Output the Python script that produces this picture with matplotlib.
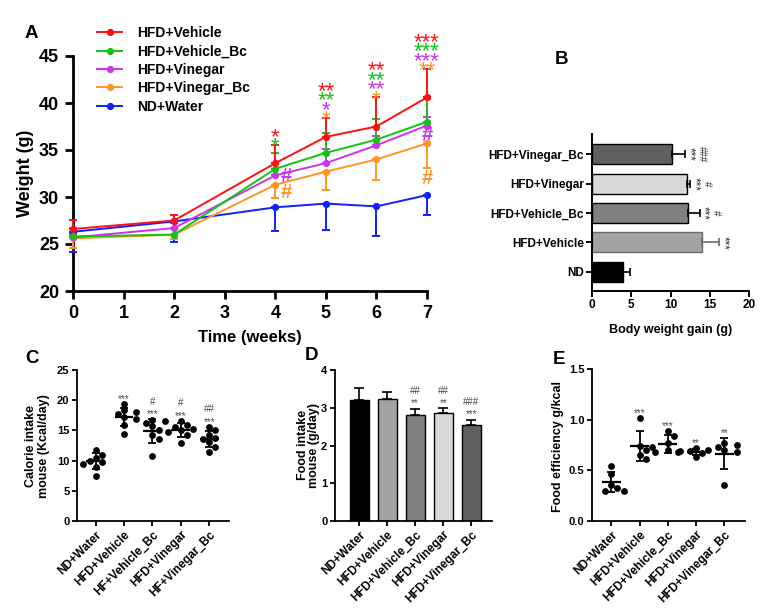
import matplotlib.pyplot as plt
import numpy as np
from matplotlib.lines import Line2D

plt.rcParams['font.family'] = ['Liberation Sans', 'DejaVu Sans']
plt.rcParams['font.weight'] = 'bold'
plt.rcParams['axes.labelweight'] = 'bold'

W, H = 771, 616

# ---------- data ----------
weeks = [0, 2, 4, 5, 6, 7]
w_vehicle = [26.6, 27.5, 33.6, 36.4, 37.5, 40.6]
w_vehicle_bc = [25.8, 26.0, 33.0, 34.7, 36.1, 38.0]
w_vinegar = [25.7, 26.7, 32.3, 33.6, 35.5, 37.6]
w_vinegar_bc = [25.6, 26.0, 31.3, 32.7, 34.0, 35.7]
w_water = [26.3, 27.4, 28.9, 29.3, 29.0, 30.2]
# SD, drawn one side only (up for the first three, down for the last two)
e_vehicle = [1.0, 0.55, 1.9, 2.0, 3.1, 3.0]
e_vehicle_bc = [0.9, 0.7, 1.65, 2.1, 2.2, 2.4]
e_vinegar = [0.4, 0.5, 0.6, 1.5, 1.0, 0.9]
e_vinegar_bc = [1.0, 0.5, 1.45, 1.95, 2.2, 2.6]
e_water = [2.2, 2.2, 2.5, 2.8, 3.1, 2.1]
s_vehicle = ['', '', '*', '**', '**', '***']
s_vehicle_bc = ['', '', '*', '**', '**', '***']
s_vinegar = ['', '', '', '*', '**', '***']
s_vinegar_bc = ['', '', '', '*', '*', '**']
hash_a = [(4.21, 32.2, 'magenta'), (4.21, 30.5, 'orange'),
          (7.0, 36.5, 'magenta'), (7.0, 32.0, 'orange')]

gain_groups = ['ND', 'HFD+Vehicle', 'HFD+Vehicle_Bc', 'HFD+Vinegar', 'HFD+Vinegar_Bc']
gain = [3.9, 14.0, 12.2, 12.05, 10.2]
gain_err = [0.9, 2.2, 1.5, 0.45, 1.7]
gain_stars = ['', '***', '***', '***', '***']
gain_hash = ['', '', '#', '#', '###']

labels_c = ['ND+Water', 'HFD+Vehicle', 'HF+Vehicle_Bc', 'HFD+Vinegar', 'HF+Vinegar_Bc']
labels_de = ['ND+Water', 'HFD+Vehicle', 'HFD+Vehicle_Bc', 'HFD+Vinegar', 'HFD+Vinegar_Bc']
cal_water = [11.8, 11.0, 10.5, 10.0, 9.8, 9.5, 8.9, 7.5]
cal_vehicle = [19.4, 18.3, 18.0, 17.7, 17.2, 16.9, 15.9, 14.4]
cal_vehicle_bc = [16.8, 16.6, 16.3, 15.7, 15.0, 14.3, 13.6, 10.8]
cal_vinegar = [16.6, 15.9, 15.6, 15.3, 15.1, 14.8, 14.3, 12.9]
cal_vinegar_bc = [15.6, 15.0, 14.2, 13.8, 13.5, 13.0, 12.2, 11.5]
cal_stars = ['', '***', '***', '***', '***']
cal_hash = ['', '', '#', '#', '##']

food = [3.2, 3.24, 2.81, 2.85, 2.55]
food_err = [0.33, 0.19, 0.17, 0.14, 0.13]
food_stars = ['', '', '**', '**', '***']
food_hash = ['', '', '##', '##', '###']

eff_water = [0.54, 0.46, 0.36, 0.33, 0.30, 0.30]
eff_vehicle = [1.02, 0.74, 0.73, 0.70, 0.65, 0.61]
eff_vehicle_bc = [0.89, 0.84, 0.77, 0.69, 0.68, 0.70]
eff_vinegar = [0.72, 0.70, 0.69, 0.68, 0.67, 0.63]
eff_vinegar_bc = [0.77, 0.75, 0.73, 0.70, 0.68, 0.36]
eff_stars = ['', '***', '***', '**', '**']

# colours
red, green, magenta, orange, blue = '#ff1010', '#12c412', '#cc33ee', '#ff9526', '#1020ff'
bar_cols = ['black', '#a3a3a3', '#808080', '#d9d9d9', '#606060']
note_grey = '#4a4a4a'


def px_box(x0, y0, x1, y1):
    return [x0 / W, 1 - y1 / H, (x1 - x0) / W, (y1 - y0) / H]


def style(ax, lw=1.3, tl=3.5, fs=8):
    for s in ['top', 'right']:
        ax.spines[s].set_visible(False)
    for s in ['left', 'bottom']:
        ax.spines[s].set_linewidth(lw)
    ax.tick_params(direction='out', length=tl, width=lw, labelsize=fs, pad=2)


def swarm(vals, unit_px, cat_px, dot=6.5):
    # simple beeswarm: put each point as close to centre as it fits
    vals = np.asarray(vals, float)
    offs = np.zeros(len(vals))
    placed = []
    for i in np.argsort(-vals):
        y = vals[i] * unit_px
        for k in [0, 1, -1, 2, -2, 3, -3]:
            x = k * dot * 0.95
            if all((x - px) ** 2 + (y - py) ** 2 >= dot ** 2 for px, py in placed):
                break
        placed.append((x, y))
        offs[i] = x / cat_px
    return offs


fig = plt.figure(figsize=(W / 100, H / 100), dpi=100)

# ---------- A ----------
axA = fig.add_axes(px_box(73, 56, 427, 291))
series = [(w_vehicle, e_vehicle, red, 'HFD+Vehicle', 'up'),
          (w_vehicle_bc, e_vehicle_bc, green, 'HFD+Vehicle_Bc', 'up'),
          (w_vinegar, e_vinegar, magenta, 'HFD+Vinegar', 'up'),
          (w_vinegar_bc, e_vinegar_bc, orange, 'HFD+Vinegar_Bc', 'down'),
          (w_water, e_water, blue, 'ND+Water', 'down')]
handles = []
for vals, err, col, name, side in series[::-1]:
    zero = np.zeros(len(err))
    yerr = [zero, err] if side == 'up' else [err, zero]
    axA.errorbar(weeks, vals, yerr=yerr, color=col, lw=1.4, marker='o', ms=4.2,
                 elinewidth=1.4, capsize=2.6, capthick=1.4, clip_on=False, zorder=3)
for vals, err, col, name, side in series:
    handles.append(Line2D([], [], color=col, lw=1.4, marker='o', ms=4.2, label=name))

star_rows = [(s_vinegar_bc, orange), (s_vinegar, magenta), (s_vehicle_bc, green), (s_vehicle, red)]
fs_star = 16
for j, wk in enumerate(weeks):
    top = w_vehicle[j] + e_vehicle[j]
    k = 0
    for labs, col in star_rows:
        if labs[j]:
            axA.annotate(labs[j], (wk, top), xytext=(0, 4.0 + k * 6.8 - 0.58 * fs_star),
                         textcoords='offset points', ha='center', va='baseline',
                         fontsize=fs_star, fontweight='normal', color=col, annotation_clip=False)
            k += 1
for x, y, c in hash_a:
    axA.text(x, y, '#', color=magenta if c == 'magenta' else orange, fontsize=14.5,
             ha='center', va='center')

axA.set_xlim(0, 7)
axA.set_ylim(20, 45)
axA.set_xticks(range(0, 8))
axA.set_yticks([20, 25, 30, 35, 40, 45])
style(axA, lw=2.0, tl=6, fs=13)
axA.tick_params(pad=4)
axA.set_xlabel('Time (weeks)', fontsize=12, labelpad=6)
fig.text(26 / W, 1 - 173 / H, 'Weight (g)', rotation=90, ha='center', va='center', fontsize=13)
fig.legend(handles=handles, loc='upper left', bbox_to_anchor=(97 / W, 1 - 26 / H),
           frameon=False, fontsize=10, handlelength=1.8, handletextpad=1.1,
           labelspacing=0.32, borderpad=0, borderaxespad=0)

# ---------- B ----------
axB = fig.add_axes(px_box(592, 134, 749, 291))
yb = np.arange(len(gain_groups))
edges = ['black', '#6a6a6a', 'black', 'black', 'black']
for i in yb:
    axB.barh(i, gain[i], height=0.68, color=bar_cols[i], edgecolor=edges[i], lw=1.0,
             xerr=[[0], [gain_err[i]]],
             error_kw=dict(ecolor=edges[i], elinewidth=1.2, capsize=3, capthick=1.2))
    end = gain[i] + gain_err[i]
    if gain_stars[i]:
        axB.annotate(gain_stars[i], (end, i), xytext=(-1.5, 0), textcoords='offset points',
                     rotation=270, ha='left', va='center', fontsize=8.5,
                     fontweight='normal', color='#333333')
    if gain_hash[i]:
        axB.annotate(gain_hash[i], (end, i), xytext=(8.5, 0), textcoords='offset points',
                     rotation=270, ha='left', va='center', fontsize=7,
                     fontweight='normal', color='#333333')
axB.set_xlim(0, 20)
axB.set_ylim(-0.65, 4.69)
axB.set_xticks([0, 5, 10, 15, 20])
axB.set_yticks(yb)
axB.set_yticklabels(gain_groups)
style(axB, lw=1.4, tl=4, fs=8.5)
axB.set_xlabel('Body weight gain (g)', fontsize=9, labelpad=9)

# ---------- C ----------
axC = fig.add_axes(px_box(77, 370, 229, 521))
cal = [cal_water, cal_vehicle, cal_vehicle_bc, cal_vinegar, cal_vinegar_bc]


def dot_panel(ax, groups, unit_px, cat_px, stars, hashes, fs_note=7):
    for i, vals in enumerate(groups):
        vals = np.asarray(vals, float)
        ax.scatter(i + swarm(vals, unit_px, cat_px), vals, s=24, color='black',
                   zorder=3, clip_on=False, linewidths=0)
        m, sd = vals.mean(), vals.std(ddof=1)
        ax.hlines(m, i - 0.33, i + 0.33, color='black', lw=1.6, zorder=4)
        ax.errorbar(i, m, yerr=sd, fmt='none', ecolor='black', elinewidth=1.3,
                    capsize=3.2, capthick=1.3, zorder=4)
        top = max(vals.max(), m + sd)
        if stars[i]:
            ax.annotate(stars[i], (i, top), xytext=(0, 5.4 - 0.58 * fs_note),
                        textcoords='offset points', ha='center', va='baseline',
                        fontsize=fs_note, fontweight='normal', color=note_grey)
        if hashes[i]:
            ax.annotate(hashes[i], (i, top), xytext=(0, 12.8 - 0.35 * fs_note),
                        textcoords='offset points', ha='center', va='baseline',
                        fontsize=fs_note, fontweight='normal', color=note_grey)


dot_panel(axC, cal, 6.05, 28.4, cal_stars, cal_hash)
axC.set_xlim(-0.66, 4.7)
axC.set_ylim(0, 25)
axC.set_yticks([0, 5, 10, 15, 20, 25])
axC.set_xticks(range(5))
axC.set_xticklabels(labels_c, rotation=45, ha='right', rotation_mode='anchor')
style(axC, fs=8)
axC.tick_params(axis='x', labelsize=8.5)
fig.text(37.5 / W, 1 - 446 / H, 'Calorie intake\nmouse (Kcal/day)', rotation=90,
         ha='center', va='center', fontsize=9, linespacing=1.0)

# ---------- D ----------
axD = fig.add_axes(px_box(335, 370, 492, 521))
xd = np.arange(len(food))
axD.bar(xd, food, width=0.68, color=bar_cols, edgecolor='black', lw=1.0,
        yerr=[np.zeros(len(food)), food_err],
        error_kw=dict(ecolor='black', elinewidth=1.2, capsize=3.5, capthick=1.2))
for i in xd:
    top = food[i] + food_err[i]
    if food_stars[i]:
        axD.annotate(food_stars[i], (i, top), xytext=(0, 5.8 - 0.58 * 7),
                     textcoords='offset points', ha='center', va='baseline',
                     fontsize=7, fontweight='normal', color=note_grey)
    if food_hash[i]:
        axD.annotate(food_hash[i], (i, top), xytext=(0, 12.8 - 0.35 * 7),
                     textcoords='offset points', ha='center', va='baseline',
                     fontsize=7, fontweight='normal', color=note_grey)
axD.set_xlim(-0.86, 4.74)
axD.set_ylim(0, 4)
axD.set_yticks([0, 1, 2, 3, 4])
axD.set_xticks(xd)
axD.set_xticklabels(labels_de, rotation=45, ha='right', rotation_mode='anchor')
style(axD, fs=8)
axD.tick_params(axis='x', labelsize=8.5)
fig.text(308.5 / W, 1 - 445 / H, 'Food intake\nmouse (g/day)', rotation=90,
         ha='center', va='center', fontsize=9, linespacing=1.0)

# ---------- E ----------
axE = fig.add_axes(px_box(592, 369, 745, 521))
eff = [eff_water, eff_vehicle, eff_vehicle_bc, eff_vinegar, eff_vinegar_bc]
dot_panel(axE, eff, 101.1, 28.3, eff_stars, [''] * 5)
axE.set_xlim(-0.68, 4.73)
axE.set_ylim(0, 1.5)
axE.set_yticks([0, 0.5, 1.0, 1.5])
axE.set_yticklabels(['0.0', '0.5', '1.0', '1.5'])
axE.set_xticks(range(5))
axE.set_xticklabels(labels_de, rotation=45, ha='right', rotation_mode='anchor')
style(axE, fs=8)
axE.tick_params(axis='x', labelsize=8.5)
fig.text(557.5 / W, 1 - 446 / H, 'Food efficiency g/kcal', rotation=90,
         ha='center', va='center', fontsize=9)

# panel letters
for lab, x, y in [('A', 31.5, 33.5), ('B', 562, 60), ('C', 31.5, 358),
                  ('D', 311, 355), ('E', 558.5, 360)]:
    fig.text(x / W, 1 - y / H, lab, ha='center', va='center', fontsize=13.5)

fig.savefig('out.png', dpi=100)
